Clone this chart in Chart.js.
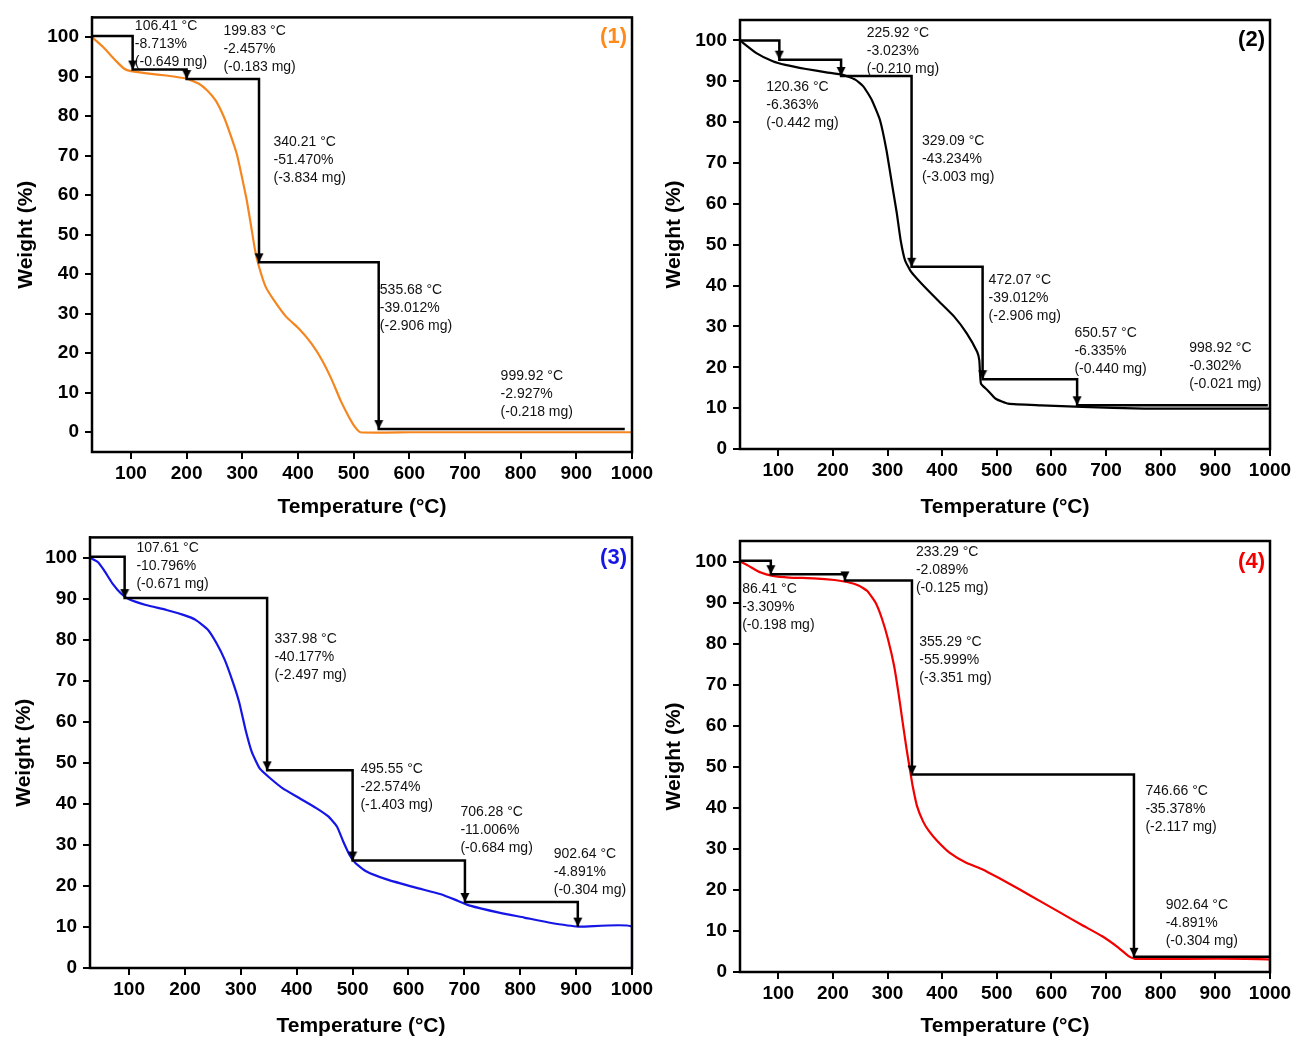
<!DOCTYPE html>
<html>
<head>
<meta charset="utf-8">
<script src="https://cdn.jsdelivr.net/npm/chart.js@4.4.1/dist/chart.umd.min.js"></script>
<style>
  body { margin: 0; background: #fff; width: 1296px; height: 1039px; position: relative; overflow: hidden; }
  canvas { position: absolute; }
</style>
</head>
<body>
<canvas id="c1" width="672" height="520" style="left:0;top:0"></canvas>
<canvas id="c2" width="648" height="520" style="left:648px;top:0"></canvas>
<canvas id="c3" width="672" height="519" style="left:0;top:520px"></canvas>
<canvas id="c4" width="648" height="519" style="left:648px;top:520px"></canvas>
<script>
// tick labels
const xTicks = [100, 200, 300, 400, 500, 600, 700, 800, 900, 1000];
const yTicks = [0, 10, 20, 30, 40, 50, 60, 70, 80, 90, 100];

// (1) orange curve
const t1 = [30, 50, 73, 88, 100, 125, 163, 200, 222, 237, 252, 267, 278, 290, 298, 308, 316, 323, 330, 342, 357, 379, 401, 424, 443, 461, 476, 491, 502, 512, 600, 800, 1000];
const w1 = [100, 97.5, 94, 92, 91.4, 90.9, 90.3, 89.5, 88.2, 86.5, 84, 79.8, 75.6, 70.5, 65.5, 58.7, 52, 46, 41.9, 36.8, 33.4, 29.2, 26.3, 22.5, 18.3, 13.2, 8.2, 4, 1.4, 0, 0, 0, 0];
const stepT1 = [30, 103, 200, 330, 545, 987];
const stepW1 = [100.3, 91.8, 89.4, 43, 0.8, 0.8];
const notes1 = [['106.41 °C', '-8.713%', '(-0.649 mg)'], ['199.83 °C', '-2.457%', '(-0.183 mg)'], ['340.21 °C', '-51.470%', '(-3.834 mg)'], ['535.68 °C', '-39.012%', '(-2.906 mg)'], ['999.92 °C', '-2.927%', '(-0.218 mg)']];
const noteT1 = [107, 266, 356, 547, 764];
const noteW1 = [102.8, 101.5, 73.5, 35.9, 14.1];

// (2) black curve
const t2 = [30, 60, 90, 113, 151, 188, 218, 241, 256, 271, 286, 298, 309, 317, 324, 332, 343, 362, 392, 422, 445, 464, 468, 471, 483, 498, 521, 581, 656, 770, 1000];
const w2 = [100, 96.9, 94.9, 94, 93, 92.2, 91.6, 90.4, 88.7, 85.5, 80.6, 73.2, 64.2, 57.7, 51.1, 46.2, 43.4, 40.5, 36.4, 32.4, 28.3, 23.8, 21.7, 16, 14.4, 12.3, 11.1, 10.7, 10.3, 9.9, 9.9];
const stepT2 = [30, 102, 215, 344, 474, 647, 996];
const stepW2 = [100, 95.3, 91.3, 44.6, 17.1, 10.7, 10.7];
const notes2 = [['225.92 °C', '-3.023%', '(-0.210 mg)'], ['120.36 °C', '-6.363%', '(-0.442 mg)'], ['329.09 °C', '-43.234%', '(-3.003 mg)'], ['472.07 °C', '-39.012%', '(-2.906 mg)'], ['650.57 °C', '-6.335%', '(-0.440 mg)'], ['998.92 °C', '-0.302%', '(-0.021 mg)']];
const noteT2 = [262, 78, 363, 485, 642, 852];
const noteW2 = [101.8, 88.5, 75.4, 41.3, 28.4, 24.7];

// (3) blue curve
const t3 = [31, 44, 55, 70, 85, 100, 130, 167, 197, 219, 241, 256, 271, 286, 297, 308, 319.5, 334, 353, 375, 405, 435, 457, 472, 483, 494, 505, 524, 561, 613, 658, 688, 710, 762, 807, 851, 904, 1000, 1000];
const w3 = [100, 99, 97, 93.8, 91.4, 89.9, 88.5, 87.3, 86.1, 84.9, 82.5, 79.3, 75.2, 69.6, 64.8, 58.3, 52.7, 48.6, 46.2, 43.8, 41.4, 39, 36.9, 34.5, 30.9, 27.7, 25.6, 23.6, 21.6, 19.6, 18, 16.4, 15.2, 13.5, 12.3, 11.1, 10.1, 10.1, 0];
const stepT3 = [31, 92, 347, 500, 701, 903];
const stepW3 = [100.3, 90.2, 48.2, 26.2, 16.1, 10.1];
const notes3 = [['107.61 °C', '-10.796%', '(-0.671 mg)'], ['337.98 °C', '-40.177%', '(-2.497 mg)'], ['495.55 °C', '-22.574%', '(-1.403 mg)'], ['706.28 °C', '-11.006%', '(-0.684 mg)'], ['902.64 °C', '-4.891%', '(-0.304 mg)']];
const noteT3 = [113, 360, 514, 693, 860];
const noteW3 = [102.5, 80.1, 48.6, 38, 27.8];

// (4) red curve
const t4 = [30, 45, 68, 90, 120, 165, 203, 226, 248, 263, 278, 290, 301, 312, 320, 327, 335, 342, 346, 354, 365, 376, 391, 414, 444, 474, 504, 542, 580, 617, 655, 693, 723, 742, 753, 806, 1000, 1000];
const w4 = [100, 99, 97.3, 96.5, 96.1, 95.9, 95.5, 95, 94.1, 92.8, 90, 86, 81, 74.6, 68, 61.5, 54.2, 48.5, 45.3, 40.4, 36.7, 34.3, 31.9, 29, 26.6, 25, 22.9, 20.1, 17.2, 14.4, 11.5, 8.7, 5.9, 3.8, 3.2, 3.2, 3.0, 0];
const stepT4 = [30, 86.4, 222, 344.7, 751, 1000];
const stepW4 = [100.2, 96.9, 95.4, 48.1, 3.7, 3.7];
const notes4 = [['233.29 °C', '-2.089%', '(-0.125 mg)'], ['86.41 °C', '-3.309%', '(-0.198 mg)'], ['355.29 °C', '-55.999%', '(-3.351 mg)'], ['746.66 °C', '-35.378%', '(-2.117 mg)'], ['902.64 °C', '-4.891%', '(-0.304 mg)']];
const noteT4 = [352, 34, 358, 772, 809];
const noteW4 = [102.4, 93.3, 80.4, 44.1, 16.2];

const FONT = "'Liberation Sans', Arial, sans-serif";

// little down arrow, tip at the centre so it sits on the end of each drop
const arrow = document.createElement('canvas');
arrow.width = 10; arrow.height = 22;
const ag = arrow.getContext('2d');
ag.fillStyle = '#000';
ag.beginPath(); ag.moveTo(0.5, 2); ag.lineTo(9.5, 2); ag.lineTo(5, 11); ag.closePath(); ag.fill();

const pts = (xs, ys) => xs.map((v, i) => ({ x: v, y: ys[i] }));

const frame = {
  id: 'frame',
  afterDraw(chart, args, o) {
    const { ctx, chartArea: a, scales: { x, y } } = chart;
    ctx.save();
    ctx.fillStyle = '#111';
    ctx.font = '14px ' + FONT;
    ctx.textBaseline = 'middle';
    ctx.textAlign = 'left';
    o.notes.forEach((lines, i) => {
      const px = x.getPixelForValue(o.nx[i]), py = y.getPixelForValue(o.ny[i]);
      lines.forEach((s, k) => ctx.fillText(s, px, py + k * 18));
    });
    ctx.font = 'bold 22px ' + FONT;
    ctx.fillStyle = o.tagColor;
    ctx.textAlign = 'right';
    ctx.fillText(o.tag, a.right - 5, y.getPixelForValue(100));
    ctx.strokeStyle = '#000';
    ctx.lineWidth = 2.5;
    ctx.strokeRect(a.left, a.top, a.right - a.left, a.bottom - a.top);
    ctx.restore();
  }
};

function panel(id, p) {
  const axisGrid = { drawOnChartArea: false, drawTicks: true, tickLength: 7, color: '#000', lineWidth: 2 };
  const tickFont = { family: FONT, size: 19, weight: 'bold' };
  const titleFont = { family: FONT, size: 21, weight: 'bold' };
  new Chart(document.getElementById(id), {
    type: 'line',
    data: {
      datasets: [
        {
          data: pts(p.st, p.sw),
          stepped: 'before',
          borderColor: '#000',
          borderWidth: 2.5,
          pointStyle: arrow,
          pointRadius: c => {
            const d = c.dataset.data, i = c.dataIndex;
            return i > 0 && d[i].y < d[i - 1].y ? 4 : 0;
          },
          fill: false
        },
        {
          data: pts(p.t, p.w),
          borderColor: p.color,
          borderWidth: 2.2,
          pointRadius: 0,
          tension: 0.15,
          fill: false
        }
      ]
    },
    options: {
      responsive: false,
      animation: false,
      layout: { padding: { left: 0, top: p.top, right: p.right, bottom: 0 } },
      plugins: {
        legend: { display: false },
        tooltip: { enabled: false },
        frame: { notes: p.notes, nx: p.nx, ny: p.ny, tag: p.tag, tagColor: p.tagColor }
      },
      scales: {
        x: {
          type: 'linear', min: 30, max: 1000,
          afterBuildTicks: s => { s.ticks = xTicks.map(v => ({ value: v })); },
          afterFit: s => { s.height = p.xh; },
          grid: axisGrid,
          border: { display: true, color: '#000', width: 2 },
          ticks: { color: '#000', font: tickFont, padding: 3, maxRotation: 0, autoSkip: false, callback: v => String(v) },
          title: { display: true, text: 'Temperature (°C)', color: '#000', font: titleFont, padding: 0 }
        },
        y: {
          type: 'linear', min: p.ymin, max: 105,
          afterBuildTicks: s => { s.ticks = yTicks.map(v => ({ value: v })); },
          afterFit: s => { s.width = p.yw; },
          grid: axisGrid,
          border: { display: true, color: '#000', width: 2 },
          ticks: { color: '#000', font: tickFont, padding: 6, autoSkip: false, callback: v => String(v) },
          title: { display: true, text: 'Weight (%)', color: '#000', font: titleFont, padding: { top: p.ytp, bottom: 0 } }
        }
      }
    },
    plugins: [frame]
  });
}

panel('c1', { t: t1, w: w1, st: stepT1, sw: stepW1, notes: notes1, nx: noteT1, ny: noteW1, color: '#f5861f', tag: '(1)', tagColor: '#ff8a1c', ymin: -5, top: 17, right: 40, yw: 92, xh: 68, ytp: 14 });
panel('c2', { t: t2, w: w2, st: stepT2, sw: stepW2, notes: notes2, nx: noteT2, ny: noteW2, color: '#000', tag: '(2)', tagColor: '#000', ymin: 0, top: 20, right: 26, yw: 92, xh: 71, ytp: 14 });
panel('c3', { t: t3, w: w3, st: stepT3, sw: stepW3, notes: notes3, nx: noteT3, ny: noteW3, color: '#1515e6', tag: '(3)', tagColor: '#1515e6', ymin: 0, top: 15, right: 40, yw: 90, xh: 71, ytp: 12 });
panel('c4', { t: t4, w: w4, st: stepT4, sw: stepW4, notes: notes4, nx: noteT4, ny: noteW4, color: '#f20000', tag: '(4)', tagColor: '#f20000', ymin: 0, top: 21, right: 26, yw: 92, xh: 67, ytp: 14 });
</script>
</body>
</html>
